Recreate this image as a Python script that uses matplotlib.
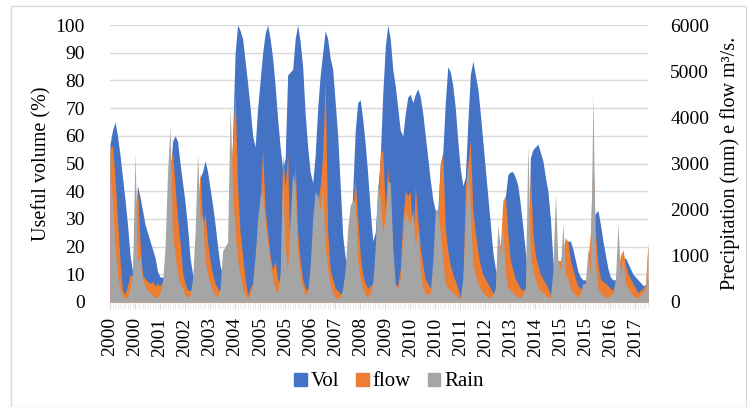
import matplotlib
matplotlib.use("Agg")
import matplotlib.pyplot as plt
from matplotlib.patches import Patch, Rectangle

# ---- data (monthly, Jan 2000 - Dec 2017) ----
vol = [
    57, 62, 65, 60, 53, 45, 37, 28, 17, 11, 13, 42,
    38, 33, 28, 25, 22, 19, 16, 11, 9, 9, 9, 15,
    45, 58, 60, 58, 50, 43, 36, 27, 16, 10, 9, 20,
    45, 47, 51, 47, 41, 35, 28, 20, 13, 10, 10, 12,
    25, 60, 90, 100, 98, 95, 87, 79, 70, 60, 56, 70,
    80, 90, 97, 100, 95, 88, 78, 66, 56, 48, 52, 82,
    83, 84, 95, 100, 94, 85, 68, 56, 47, 43, 53, 70,
    82, 90, 98, 95, 88, 84, 72, 60, 42, 24, 16, 13,
    18, 40, 62, 72, 73, 66, 57, 46, 33, 22, 25, 40,
    52, 75, 92, 100, 95, 84, 78, 70, 62, 60, 68, 74,
    75, 72, 75, 77, 74, 68, 60, 52, 44, 37, 33, 33,
    50, 54, 72, 85, 83, 78, 70, 58, 48, 42, 45, 65,
    82, 87, 82, 77, 68, 58, 48, 38, 28, 18, 12, 9,
    14, 25, 38, 46, 47, 47, 45, 42, 35, 27, 18, 10,
    52, 55, 56, 57, 54, 51, 45, 40, 30, 15, 9, 8,
    10, 14, 19, 22, 22, 19, 15, 11, 9, 8, 8, 9,
    12, 28, 32, 33, 28, 22, 17, 12, 9, 8, 8, 10,
    12, 15, 16, 14, 12, 10, 9, 8, 7, 6, 6, 8,
]

flow = [
    3300, 3400, 2700, 1800, 900, 250, 180, 350, 600, 550, 2000, 2500,
    1300, 600, 500, 450, 400, 450, 350, 400, 350, 450, 700, 2000,
    3000, 3250, 2500, 1800, 1300, 650, 400, 250, 250, 300, 700, 2000,
    2800, 1700, 1900, 1300, 900, 600, 400, 300, 200, 500, 700, 900,
    2500, 3500, 4500, 2500, 1500, 1000, 500, 150, 300, 400, 900, 1500,
    2200, 3300, 2000, 1500, 1000, 700, 900, 500, 400, 3200, 2500, 3200,
    700, 1500, 3000, 1500, 900, 500, 300, 250, 600, 1500, 2000, 2200,
    2500, 3200, 4800, 1500, 700, 500, 300, 250, 180, 200, 400, 1200,
    1800, 2000, 2650, 1800, 1000, 600, 400, 300, 350, 400, 800, 2000,
    3200, 3300, 2000, 2900, 2000, 1000, 200, 400, 700, 1800, 2400, 2300,
    2400, 1200, 2500, 1800, 1200, 800, 500, 400, 300, 250, 800, 1800,
    3000, 3200, 1600, 1100, 800, 600, 450, 300, 100, 300, 2500, 3000,
    3500, 2000, 1500, 1100, 800, 600, 500, 400, 300, 200, 150, 1500,
    1200, 2200, 2300, 1500, 900, 700, 500, 400, 300, 250, 300, 800,
    2800, 1500, 1000, 800, 600, 500, 400, 300, 150, 300, 800, 900,
    900, 1100, 1400, 1300, 900, 700, 500, 350, 300, 250, 400, 900,
    1500, 3150, 1500, 800, 500, 450, 400, 350, 300, 250, 400, 700,
    1000, 1130, 800, 600, 500, 400, 300, 200, 250, 300, 400, 1280,
]

rain = [
    2800, 2200, 1200, 600, 300, 150, 80, 100, 300, 600, 3230, 900,
    1000, 500, 350, 250, 200, 150, 100, 100, 200, 400, 1200, 2800,
    3800, 1500, 1000, 600, 400, 300, 150, 100, 150, 500, 1500, 3200,
    1800, 1900, 900, 600, 400, 250, 150, 100, 300, 1100, 1200, 1300,
    4250, 2400, 1500, 900, 600, 300, 150, 80, 150, 400, 1000, 1800,
    2300, 2350, 1700, 1300, 900, 500, 300, 200, 600, 2800, 1200, 700,
    1800, 2800, 2500, 1000, 600, 300, 150, 200, 800, 1800, 2400, 2300,
    2000, 2500, 1200, 700, 400, 200, 100, 80, 100, 300, 700, 1600,
    2100, 2200, 2150, 900, 500, 300, 150, 100, 200, 400, 1200, 2600,
    2200, 1500, 1800, 2600, 2600, 1200, 400, 300, 500, 1500, 2000, 1800,
    1700, 2000, 1200, 1600, 700, 300, 200, 150, 200, 900, 2000, 2000,
    1500, 900, 400, 300, 250, 200, 150, 100, 80, 500, 1800, 3000,
    2000, 800, 600, 400, 300, 200, 150, 100, 100, 150, 300, 1700,
    1000, 1700, 600, 300, 250, 200, 150, 100, 100, 150, 300, 3400,
    1000, 700, 500, 300, 250, 200, 150, 100, 100, 700, 2350, 900,
    700, 1700, 600, 500, 300, 200, 150, 100, 200, 400, 400, 1170,
    600, 4500, 800, 300, 200, 150, 100, 100, 150, 200, 500, 1700,
    600, 900, 400, 300, 200, 150, 100, 100, 150, 200, 300, 1280,
]

tick_labels = ["2000", "2000", "2001", "2002", "2003", "2004", "2005", "2005",
               "2006", "2007", "2008", "2009", "2010", "2010", "2011", "2012",
               "2013", "2014", "2015", "2015", "2016", "2017"]
tick_step = 10

C_VOL = "#4472C4"
C_FLOW = "#ED7D31"
C_RAIN = "#A5A5A5"
FONT = "Liberation Serif"

plt.rcParams["font.family"] = [FONT, "DejaVu Serif"]

fig = plt.figure(figsize=(7.47, 4.07), dpi=100)
fig.patches.append(Rectangle((11 / 747, 0.0), 735 / 747, 1 - 6 / 407,
                             transform=fig.transFigure, fill=False,
                             edgecolor="#d9d9d9", linewidth=1.0))

ax = fig.add_axes([110 / 747, 1 - 302 / 407, 538 / 747, 277 / 407])
x = list(range(len(vol)))

ax.fill_between(x, 0, vol, color=C_VOL, linewidth=0, zorder=2)
ax.set_ylim(0, 100)
ax.set_xlim(0, len(vol) - 1)
ax.set_yticks(range(0, 101, 10))
ax.grid(axis="y", color="#d9d9d9", linewidth=1.0, zorder=0)
ax.set_axisbelow(True)
for s in ["top", "left", "right"]:
    ax.spines[s].set_visible(False)
ax.spines["bottom"].set_color("#d9d9d9")
ax.tick_params(axis="y", length=0, labelsize=14, pad=18)
ax.set_xticks(list(range(0, len(vol), tick_step)))
ax.set_xticklabels(tick_labels, rotation=90, fontsize=14)
ax.set_xticks(x, minor=True)
ax.tick_params(axis="x", which="major", length=5, color="#d9d9d9", pad=6)
ax.tick_params(axis="x", which="minor", length=5, color="#e6e6e6")
ax.set_ylabel("Useful volume (%)", fontsize=14.5, labelpad=3)

ax2 = ax.twinx()
ax2.fill_between(x, 0, flow, color=C_FLOW, linewidth=0, zorder=2)
ax2.fill_between(x, 0, rain, color=C_RAIN, linewidth=0, zorder=3)
ax2.set_ylim(0, 6000)
ax2.set_yticks(range(0, 6001, 1000))
for s in ["top", "left", "right", "bottom"]:
    ax2.spines[s].set_visible(False)
ax2.tick_params(axis="y", length=0, labelsize=14, pad=16)
ax2.set_ylabel("Precipitation (mm) e flow m³/s.", fontsize=14.5, labelpad=8)

handles = [Patch(color=C_VOL, label="Vol"), Patch(color=C_FLOW, label="flow"),
           Patch(color=C_RAIN, label="Rain")]
fig.legend(handles=handles, loc="center", bbox_to_anchor=(389 / 747, 1 - 382 / 407),
           ncol=3, frameon=False, fontsize=15, handlelength=0.6, handleheight=0.6,
           handletextpad=0.2, columnspacing=0.8)

fig.savefig("out.png", dpi=100)
